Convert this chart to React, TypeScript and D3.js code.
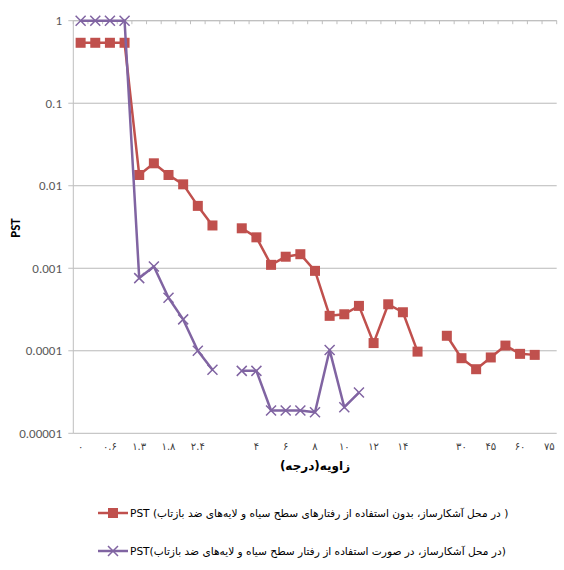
import React from "react";
import * as d3 from "d3";

const xLabels: string[] = ["۰","","۰.۶","","۱.۳","","۱.۸","","۲.۴","","","","۴","","۶","","۸","","۱۰","","۱۲","","۱۴","","","","۳۰","","۴۵","","۶۰","","۷۵"];

const pstNoCoating: (number | null)[] = [0.54,0.54,0.54,0.54,0.0135,0.0187,0.0135,0.0104,0.0057,0.0033,null,0.00305,0.00237,0.0011,0.00138,0.00148,0.00093,0.000265,0.000277,0.00035,0.000124,0.000366,0.000293,0.0000977,null,0.000152,0.0000813,0.0000598,0.000083,0.0001156,0.0000918,0.0000892,null];

const pstCoating: (number | null)[] = [1,1,1,1,0.00076,0.00105,0.00044,0.00024,0.0001,0.0000589,null,0.0000571,0.0000571,0.0000189,0.0000189,0.0000189,0.000018,0.000102,0.0000207,0.0000312,null,null,null,null,null,null,null,null,null,null,null,null,null];

const yTicks: number[] = [1, 0.1, 0.01, 0.001, 0.0001, 0.00001];
const yTickLabels: string[] = ["1", "0.1", "0.01", "0.001", "0.0001", "0.00001"];

const legend1 = "PST (در محل آشکارساز، بدون استفاده از رفتارهای سطح سیاه و لایه‌های ضد بازتاب )";
const legend2 = "PST(در محل آشکارساز، در صورت استفاده از رفتار سطح سیاه و لایه‌های ضد بازتاب)";
const xTitle = "زاویه(درجه)";
const yTitle = "PST";

const RED = "#c0504d";
const PURPLE = "#8064a2";

export default function App() {
  const W = 564, H = 570;
  const left = 73.3, right = 556.7, top = 20.7, bottom = 433.3;
  const idx = xLabels.map((_, i) => i);
  const x = d3.scaleBand<number>().domain(idx).range([left, right]).padding(0);
  const cx = (i: number) => (x(i) as number) + x.bandwidth() / 2;
  const y = d3.scaleLog().domain([1e-5, 1]).range([bottom, top]);

  const line = d3
    .line<number | null>()
    .defined((d) => d !== null)
    .x((_, i) => cx(i))
    .y((d) => y(d as number));

  const font = "Calibri, Carlito, Lato, 'Liberation Sans', sans-serif";
  const arFont = "'DejaVu Sans', 'Noto Sans', sans-serif";

  const square = (px: number, py: number, k: string) => (
    <rect key={k} x={px - 5} y={py - 5} width={10} height={10} fill={RED} />
  );
  const cross = (px: number, py: number, k: string) => (
    <path key={k} d={`M${px - 5},${py - 5}L${px + 5},${py + 5}M${px - 5},${py + 5}L${px + 5},${py - 5}`} stroke={PURPLE} strokeWidth={1.5} fill="none" />
  );

  return (
    <svg width={W} height={H} style={{ position: "absolute", left: 0, top: 0, background: "#fff" }}>
      {yTicks.map((t) => (
        <line key={"g" + t} x1={left} x2={right} y1={y(t)} y2={y(t)} stroke="#b9b9b9" strokeWidth={1} />
      ))}
      <line x1={left} x2={left} y1={top} y2={bottom} stroke="#bfbfbf" strokeWidth={1} />
      {yTicks.map((t, i) => (
        <g key={"yt" + t}>
          <line x1={left - 5} x2={left} y1={y(t)} y2={y(t)} stroke="#bfbfbf" />
          <text x={62} y={y(t)} dy="0.35em" textAnchor="end" fontFamily={font} fontSize={13} fill="#595959">
            {yTickLabels[i]}
          </text>
        </g>
      ))}
      <line x1={left} x2={right} y1={top} y2={top} stroke="#bfbfbf" strokeWidth={1} />
      {d3.range(xLabels.length + 1).map((i) => {
        const px = left + i * x.step();
        return <line key={"xt" + i} x1={px} x2={px} y1={top} y2={top + 3.5} stroke="#bfbfbf" />;
      })}
      {xLabels.map((l, i) =>
        l ? (
          <text key={"xl" + i} x={cx(i)} y={450} textAnchor="middle" fontFamily={arFont} fontSize={10} fill="#404040">
            {l}
          </text>
        ) : null
      )}
      <text x={315} y={470} textAnchor="middle" fontFamily={arFont} fontSize={12} fontWeight="bold" fill="#000">
        {xTitle}
      </text>
      <text transform={`translate(20,228) rotate(-90)`} textAnchor="middle" fontFamily={font} fontSize={13} fontWeight="bold" fill="#000">
        {yTitle}
      </text>

      <path d={line(pstNoCoating) || ""} fill="none" stroke={RED} strokeWidth={2.5} strokeLinejoin="round" />
      {pstNoCoating.map((v, i) => (v === null ? null : square(cx(i), y(v), "r" + i)))}
      <path d={line(pstCoating) || ""} fill="none" stroke={PURPLE} strokeWidth={2.5} strokeLinejoin="round" />
      {pstCoating.map((v, i) => (v === null ? null : cross(cx(i), y(v), "p" + i)))}

      <line x1={98} x2={128} y1={513} y2={513} stroke={RED} strokeWidth={2.5} />
      {square(113, 513, "lg1")}
      <text x={130} y={513} dy="0.35em" fontFamily={arFont} fontSize={10.6} fill="#000">
        {legend1}
      </text>
      <line x1={98} x2={128} y1={551} y2={551} stroke={PURPLE} strokeWidth={2.5} />
      {cross(113, 551, "lg2")}
      <text x={130} y={551} dy="0.35em" fontFamily={arFont} fontSize={10.6} fill="#000">
        {legend2}
      </text>
    </svg>
  );
}
